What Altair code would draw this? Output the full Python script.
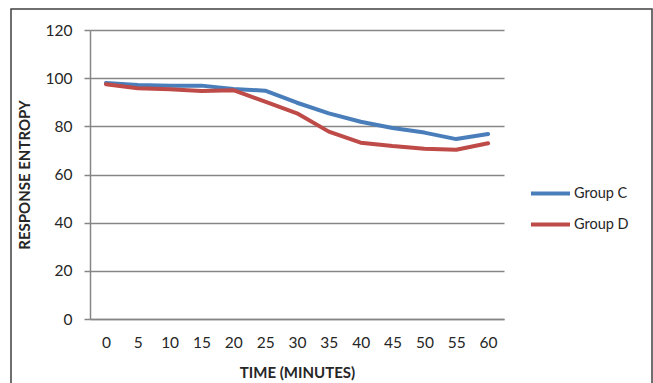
import altair as alt
import pandas as pd

minutes = [0, 5, 10, 15, 20, 25, 30, 35, 40, 45, 50, 55, 60]
group_c = [98.0, 97.2, 96.9, 96.9, 95.5, 94.8, 89.8, 85.4, 81.9, 79.3, 77.4, 74.7, 76.8]
group_d = [97.5, 95.8, 95.4, 94.7, 95.0, 90.3, 85.4, 77.8, 73.2, 71.8, 70.7, 70.3, 73.0]
series_names = ["Group C", "Group D"]
series_colors = ["#4A7EBB", "#BE4B48"]
y_ticks = [0, 20, 40, 60, 80, 100, 120]

rows = []
for name, vals in zip(series_names, [group_c, group_d]):
    for m, v in zip(minutes, vals):
        rows.append({"Time": m, "Value": v, "Series": name})
df = pd.DataFrame(rows)

FONT = "Lato"
TXT = "#262626"
GRID = "#868686"

lines = alt.Chart(df).mark_line(strokeWidth=4, strokeCap="round", strokeJoin="round").encode(
    x=alt.X("Time:Q",
            scale=alt.Scale(domain=[-2.5, 62.5], nice=False, zero=False),
            axis=alt.Axis(values=minutes, title="TIME (MINUTES)", grid=False, ticks=False,
                          domainColor=GRID, domainWidth=1.5, labelPadding=16,
                          labelFontSize=15.5, labelFont=FONT, labelColor=TXT,
                          titleFont=FONT, titleFontSize=15, titleFontWeight="bold",
                          titleColor=TXT, titlePadding=15, labelFlush=False)),
    y=alt.Y("Value:Q",
            scale=alt.Scale(domain=[0, 120], nice=False),
            axis=alt.Axis(values=y_ticks, title="RESPONSE ENTROPY", grid=True,
                          gridColor=GRID, gridWidth=1.5, domainColor=GRID, domainWidth=1.5,
                          tickColor=GRID, tickSize=6, tickWidth=1.5, labelPadding=12,
                          labelFontSize=15.5, labelFont=FONT, labelColor=TXT,
                          titleFont=FONT, titleFontSize=15, titleFontWeight="bold",
                          titleColor=TXT, titlePadding=13)),
    color=alt.Color("Series:N",
                    scale=alt.Scale(domain=series_names, range=series_colors),
                    legend=alt.Legend(title=None, orient="none", legendX=439, legendY=142,
                                      symbolType="stroke", symbolSize=1521, symbolStrokeWidth=4,
                                      labelFont=FONT, labelFontSize=14.5, labelColor=TXT,
                                      rowPadding=1, labelOffset=2)),
)

border = alt.Chart(pd.DataFrame({"a": [0]})).mark_rect(
    fill=None, stroke="#404040", strokeWidth=1.5
).encode(
    x=alt.value(-79), x2=alt.value(562), y=alt.value(-21), y2=alt.value(360)
)

chart = alt.layer(border, lines).properties(
    width=414, height=289,
    autosize=alt.AutoSizeParams(type="none"),
    padding={"left": 90, "top": 30, "right": 149, "bottom": 64},
    background="white",
).configure_view(stroke=None)

chart.save("out.html", embed_options={"renderer": "svg", "actions": False})
